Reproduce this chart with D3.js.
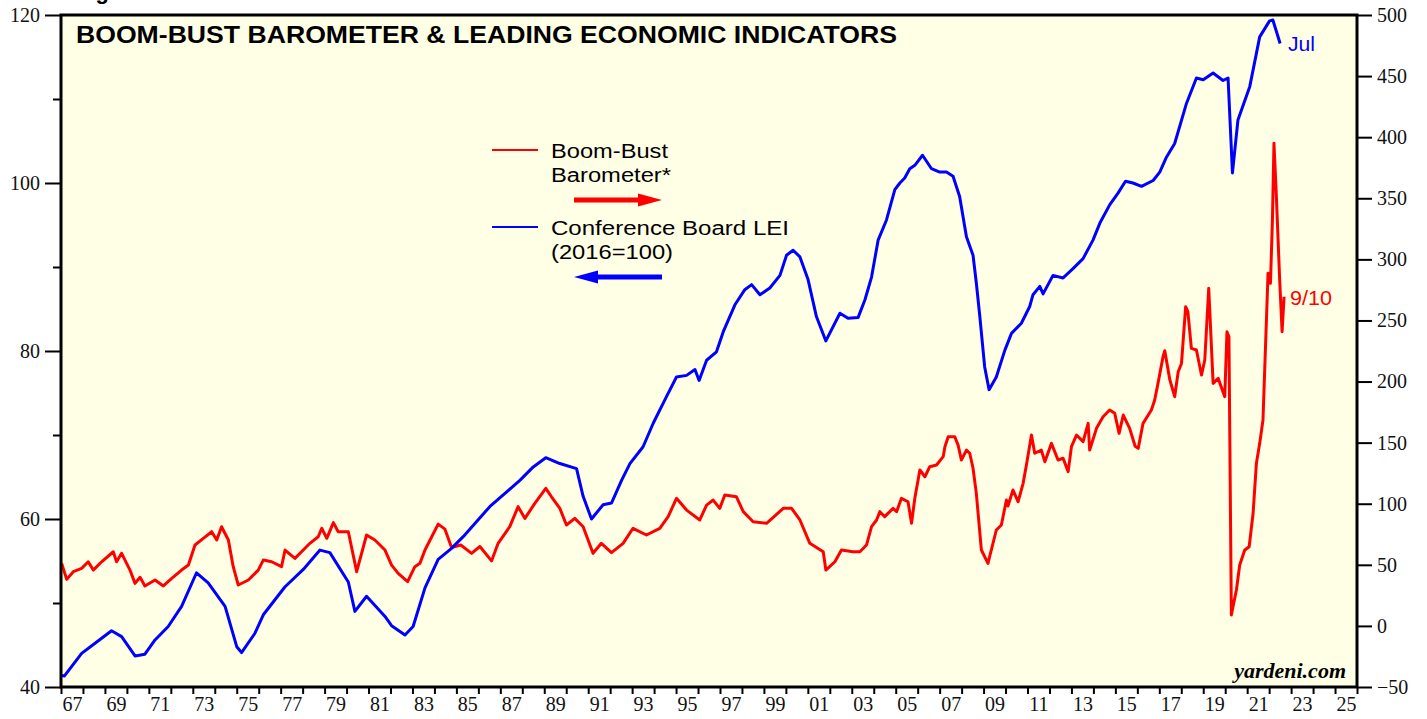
<!DOCTYPE html>
<html>
<head>
<meta charset="utf-8">
<script src="https://cdn.jsdelivr.net/npm/d3@7"></script>
<style>
  body { margin: 0; background: #fff; }
  svg { display: block; }
  .tick text { font-family: "Liberation Serif", "Times New Roman", serif; font-size: 20px; fill: #111; }
  .tick line { stroke: #000; stroke-width: 2; }
</style>
</head>
<body>
<svg id="chart" width="1427" height="719"></svg>
<script>
// Conference Board LEI (2016=100), left axis
const leiDates = [1967.0, 1967.15, 1967.94, 1968.55, 1969.3, 1969.76, 1970.37, 1970.82, 1971.28, 1971.88,
  1972.49, 1973.17, 1973.7, 1974.47, 1975.0, 1975.22, 1975.83, 1976.21, 1977.19, 1978.03,
  1978.79, 1979.24, 1980.08, 1980.38, 1980.91, 1981.75, 1982.05, 1982.66, 1983.03, 1983.57,
  1984.17, 1984.78, 1985.31, 1986.53, 1987.89, 1988.5, 1989.07, 1989.71, 1990.47, 1990.77,
  1991.15, 1991.68, 1992.06, 1992.52, 1992.9, 1993.5, 1993.96, 1994.57, 1995.02, 1995.48,
  1995.86, 1996.05, 1996.39, 1996.84, 1997.15, 1997.68, 1998.13, 1998.44, 1998.82, 1999.27,
  1999.73, 2000.03, 2000.33, 2000.64, 2001.01, 2001.39, 2001.82, 2002.46, 2002.83, 2003.29,
  2003.6, 2003.9, 2004.2, 2004.58, 2004.96, 2005.19, 2005.41, 2005.64, 2005.87, 2006.22,
  2006.63, 2007.0, 2007.31, 2007.61, 2007.91, 2008.22, 2008.52, 2008.67, 2008.83, 2009.05,
  2009.25, 2009.58, 2009.97, 2010.27, 2010.72, 2011.1, 2011.25, 2011.56, 2011.71, 2012.16,
  2012.62, 2013.07, 2013.53, 2013.98, 2014.29, 2014.74, 2015.12, 2015.46, 2015.8, 2016.19,
  2016.72, 2017.02, 2017.33, 2017.7, 2018.24, 2018.69, 2019.0, 2019.45, 2019.9, 2020.13,
  2020.33, 2020.58, 2021.12, 2021.57, 2022.02, 2022.17, 2022.5];
const leiValues = [41.4, 41.3, 44.0, 45.2, 46.7, 46.0, 43.7, 43.9, 45.6, 47.2,
  49.6, 53.6, 52.4, 49.6, 44.8, 44.1, 46.4, 48.6, 51.9, 54.0,
  56.3, 56.0, 52.5, 49.0, 50.8, 48.4, 47.3, 46.2, 47.2, 51.8,
  55.2, 56.5, 57.9, 61.5, 64.6, 66.2, 67.3, 66.6, 66.0, 62.7,
  60.0, 61.7, 61.9, 64.6, 66.6, 68.6, 71.4, 74.6, 76.9, 77.1,
  77.8, 76.5, 78.9, 79.9, 82.3, 85.5, 87.3, 87.9, 86.7, 87.5,
  89.0, 91.4, 92.0, 91.2, 88.5, 84.1, 81.2, 84.5, 83.9, 84.0,
  86.1, 88.8, 93.2, 95.6, 99.2, 100.0, 100.6, 101.7, 102.1, 103.3,
  101.7, 101.3, 101.3, 100.8, 98.4, 93.6, 91.4, 88.1, 84.1, 78.1,
  75.4, 76.9, 80.1, 82.1, 83.3, 85.3, 86.7, 87.7, 86.8, 89.0,
  88.7, 89.8, 91.0, 93.2, 95.2, 97.4, 98.8, 100.2, 100.0, 99.6,
  100.3, 101.3, 103.1, 104.7, 109.5, 112.5, 112.3, 113.1, 112.2, 112.5,
  101.2, 107.5, 111.5, 117.4, 119.3, 119.4, 116.6];

// Boom-Bust Barometer, right axis
const bbbDates = [1967.03, 1967.26, 1967.56, 1967.94, 1968.24, 1968.47, 1968.85, 1969.38, 1969.53, 1969.76,
  1970.14, 1970.37, 1970.6, 1970.82, 1971.28, 1971.66, 1972.04, 1972.49, 1972.8, 1973.1,
  1973.48, 1973.86, 1974.09, 1974.31, 1974.62, 1974.84, 1975.07, 1975.53, 1975.98, 1976.21,
  1976.59, 1977.04, 1977.2, 1977.65, 1978.03, 1978.33, 1978.71, 1978.87, 1979.1, 1979.4,
  1979.62, 1980.08, 1980.46, 1980.91, 1981.29, 1981.75, 1982.05, 1982.35, 1982.78, 1983.11,
  1983.34, 1983.57, 1984.17, 1984.48, 1984.78, 1985.2, 1985.69, 1986.07, 1986.6, 1986.9,
  1987.43, 1987.81, 1988.12, 1988.57, 1989.07, 1989.33, 1989.71, 1990.01, 1990.39, 1990.77,
  1991.22, 1991.6, 1992.06, 1992.59, 1993.04, 1993.65, 1994.26, 1994.64, 1995.02, 1995.48,
  1996.08, 1996.39, 1996.69, 1996.99, 1997.22, 1997.75, 1998.06, 1998.51, 1999.12, 1999.88,
  2000.26, 2000.64, 2001.09, 2001.7, 2001.82, 2002.23, 2002.53, 2003.06, 2003.37, 2003.67,
  2003.9, 2004.13, 2004.28, 2004.5, 2004.88, 2005.04, 2005.26, 2005.56, 2005.72, 2005.87,
  2006.1, 2006.33, 2006.55, 2006.86, 2007.16, 2007.24, 2007.39, 2007.69, 2007.84, 2007.99,
  2008.22, 2008.37, 2008.52, 2008.67, 2008.9, 2009.2, 2009.58, 2009.81, 2010.04, 2010.11,
  2010.34, 2010.57, 2010.8, 2010.95, 2011.18, 2011.33, 2011.63, 2011.79, 2012.09, 2012.39,
  2012.62, 2012.85, 2013.0, 2013.23, 2013.53, 2013.76, 2013.83, 2014.14, 2014.44, 2014.74,
  2014.97, 2015.17, 2015.36, 2015.65, 2015.9, 2016.04, 2016.26, 2016.64, 2016.79, 2016.94,
  2017.17, 2017.25, 2017.48, 2017.7, 2017.86, 2018.01, 2018.2, 2018.3, 2018.46, 2018.69,
  2018.92, 2019.07, 2019.25, 2019.45, 2019.68, 2019.98, 2020.08, 2020.17, 2020.28, 2020.51,
  2020.66, 2020.89, 2021.09, 2021.27, 2021.42, 2021.57, 2021.72, 2021.95, 2022.06, 2022.15,
  2022.22, 2022.33, 2022.48, 2022.59, 2022.68];
const bbbValues = [51.2, 38.1, 44.4, 47.1, 52.5, 45.7, 52.5, 60.7, 52.5, 59.4,
  45.7, 34.8, 39.8, 32.7, 37.6, 32.7, 38.9, 45.7, 49.8, 66.2,
  71.7, 77.1, 70.3, 81.2, 70.3, 48.5, 33.5, 37.6, 45.7, 53.9,
  52.5, 48.5, 62.1, 55.3, 62.1, 67.6, 73.0, 79.9, 71.7, 84.5,
  77.1, 77.1, 44.4, 74.4, 70.3, 62.1, 49.8, 43.0, 36.2, 48.5,
  51.2, 62.1, 83.3, 79.2, 64.2, 66.2, 59.4, 65.0, 53.2, 67.6,
  81.2, 97.6, 88.0, 100.3, 112.6, 105.7, 96.2, 82.6, 88.0, 81.2,
  59.4, 67.6, 60.0, 67.6, 79.9, 74.4, 79.9, 89.4, 104.4, 94.8,
  86.7, 98.9, 103.0, 96.2, 107.1, 105.7, 93.5, 85.3, 84.0, 96.2,
  96.2, 86.7, 67.6, 60.7, 45.7, 52.5, 62.1, 60.7, 60.7, 66.2,
  81.2, 86.7, 93.5, 89.4, 96.2, 93.5, 104.4, 101.6, 84.0, 104.4,
  127.6, 122.1, 130.3, 131.7, 138.5, 146.7, 154.8, 154.8, 148.0, 135.8,
  143.9, 141.3, 129.0, 108.5, 62.1, 51.2, 78.5, 82.6, 103.0, 98.1,
  111.2, 101.6, 116.7, 131.7, 156.2, 141.3, 143.9, 134.4, 149.4, 135.8,
  137.2, 126.3, 146.7, 156.2, 150.8, 165.8, 143.9, 161.7, 171.2, 176.7,
  174.0, 157.6, 172.6, 161.7, 147.0, 145.3, 165.8, 176.7, 184.9, 198.5,
  220.3, 225.2, 201.3, 187.6, 208.0, 214.8, 261.3, 257.2, 227.2, 225.8,
  205.3, 217.6, 276.3, 198.5, 202.6, 187.6, 240.8, 236.7, 9.0, 29.4,
  49.8, 62.1, 64.8, 92.2, 133.1, 149.4, 168.5, 288.6, 280.4, 332.2,
  395.0, 351.3, 283.1, 240.8, 269.4];

const leftTicks = [40, 60, 80, 100, 120];
const leftMinor = [50, 70, 90, 110];
const rightTicks = [-50, 0, 50, 100, 150, 200, 250, 300, 350, 400, 450, 500];
const yearTicks = d3.range(1967, 2027);
const yearLabels = d3.range(1967, 2026, 2);

const svg = d3.select("#chart");
const pLeft = 61, pRight = 1357, pTop = 15, pBottom = 687;

const x = d3.scaleLinear().domain([1967, 2026]).range([pLeft, pRight]);
const yL = d3.scaleLinear().domain([40, 120]).range([pBottom, pTop]);
const yR = d3.scaleLinear().domain([-50, 500]).range([pBottom, pTop]);

// cut-off heading above the frame (only its descender shows in the original)
svg.append("text")
  .attr("x", 76).attr("y", -1)
  .style("font-family", "Liberation Sans, Arial, sans-serif")
  .style("font-weight", "bold").style("font-size", "22px")
  .text("Figure");

svg.append("rect")
  .attr("x", pLeft).attr("y", pTop)
  .attr("width", pRight - pLeft).attr("height", pBottom - pTop)
  .attr("fill", "#ffffe6");

svg.append("defs").append("clipPath").attr("id", "plotclip")
  .append("rect").attr("x", pLeft).attr("y", pTop)
  .attr("width", pRight - pLeft).attr("height", pBottom - pTop);

// axes
svg.append("g").attr("transform", `translate(${pLeft},0)`)
  .call(d3.axisLeft(yL).tickValues(leftTicks).tickSize(16).tickPadding(5));
svg.append("g").attr("transform", `translate(${pLeft},0)`)
  .call(d3.axisLeft(yL).tickValues(leftMinor).tickSize(8).tickFormat(""));
svg.append("g").attr("transform", `translate(${pRight},0)`)
  .call(d3.axisRight(yR).tickValues(rightTicks).tickSize(15).tickPadding(5));
svg.append("g").attr("transform", `translate(0,${pBottom})`)
  .call(d3.axisBottom(x).tickValues(yearTicks).tickSize(7).tickFormat(""));
svg.append("g").attr("transform", `translate(0,${pBottom})`)
  .call(d3.axisBottom(x).tickValues(yearLabels.map(d => d + 0.5)).tickSize(0).tickPadding(10)
    .tickFormat(d => String(Math.floor(d) % 100).padStart(2, "0")))
  .selectAll(".tick line").remove();
svg.selectAll(".domain").remove();

// series
const plot = svg.append("g").attr("clip-path", "url(#plotclip)");

const leiLine = d3.line().x((d, i) => x(leiDates[i])).y(d => yL(d));
const bbbLine = d3.line().x((d, i) => x(bbbDates[i])).y(d => yR(d));

plot.append("path").datum(bbbValues)
  .attr("d", bbbLine).attr("fill", "none")
  .attr("stroke", "#ff0000").attr("stroke-width", 3).attr("stroke-linejoin", "round");
plot.append("path").datum(leiValues)
  .attr("d", leiLine).attr("fill", "none")
  .attr("stroke", "#0000ff").attr("stroke-width", 3).attr("stroke-linejoin", "round");

// frame
svg.append("rect")
  .attr("x", pLeft).attr("y", pTop)
  .attr("width", pRight - pLeft).attr("height", pBottom - pTop)
  .attr("fill", "none").attr("stroke", "#000").attr("stroke-width", 3);

const sans = "Liberation Sans, Arial, sans-serif";

svg.append("text")
  .attr("x", 76).attr("y", 43)
  .attr("textLength", 821).attr("lengthAdjust", "spacingAndGlyphs")
  .style("font-family", sans).style("font-weight", "bold").style("font-size", "23px")
  .text("BOOM-BUST BAROMETER & LEADING ECONOMIC INDICATORS");

// legend
const legend = svg.append("g").style("font-family", sans).style("font-size", "20px");
const legendText = (y, txt, w) => legend.append("text").attr("x", 551).attr("y", y)
  .attr("textLength", w).attr("lengthAdjust", "spacingAndGlyphs").text(txt);

legend.append("line").attr("x1", 492).attr("x2", 538).attr("y1", 150).attr("y2", 150)
  .attr("stroke", "#ff0000").attr("stroke-width", 2);
legendText(158, "Boom-Bust", 117);
legendText(182, "Barometer*", 120);
legend.append("line").attr("x1", 492).attr("x2", 538).attr("y1", 227).attr("y2", 227)
  .attr("stroke", "#0000ff").attr("stroke-width", 2);
legendText(235, "Conference Board LEI", 238);
legendText(259, "(2016=100)", 122);

// arrows
legend.append("line").attr("x1", 574).attr("x2", 642).attr("y1", 200).attr("y2", 200)
  .attr("stroke", "#ff0000").attr("stroke-width", 5);
legend.append("path").attr("d", "M638,193.5 L662,200 L638,206.5 Z").attr("fill", "#ff0000");
legend.append("line").attr("x1", 594).attr("x2", 662).attr("y1", 277).attr("y2", 277)
  .attr("stroke", "#0000ff").attr("stroke-width", 5);
legend.append("path").attr("d", "M598,270.5 L574,277 L598,283.5 Z").attr("fill", "#0000ff");

// end labels
svg.append("text").attr("x", 1288).attr("y", 51)
  .attr("textLength", 27).attr("lengthAdjust", "spacingAndGlyphs")
  .style("font-family", sans).style("font-size", "20px").attr("fill", "#0000ff").text("Jul");
svg.append("text").attr("x", 1290).attr("y", 305)
  .attr("textLength", 42).attr("lengthAdjust", "spacingAndGlyphs")
  .style("font-family", sans).style("font-size", "20px").attr("fill", "#ff0000").text("9/10");

svg.append("text").attr("x", 1346).attr("y", 678).attr("text-anchor", "end")
  .style("font-family", "Liberation Serif, Times New Roman, serif")
  .style("font-weight", "bold").style("font-style", "italic").style("font-size", "22px")
  .text("yardeni.com");
</script>
</body>
</html>
